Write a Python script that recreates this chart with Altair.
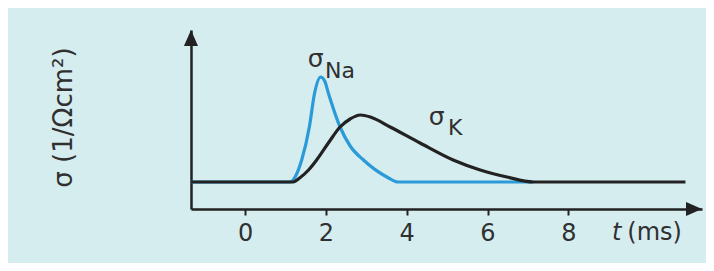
import altair as alt
import pandas as pd

# ---- data (t in ms, conductance in arbitrary units) ----
na_t = [-1.34, 1.11, 1.25, 1.40, 1.59, 1.72, 1.87, 1.97, 2.06, 2.35, 2.60, 2.93, 3.51, 3.79, 7.13]
na_v = [27, 27, 33, 49, 82, 116, 132, 128, 116, 82, 63, 49, 32, 27, 27]

k_t = [-1.34, 1.19, 1.35, 1.57, 1.77, 2.06, 2.35, 2.60, 2.85, 3.10, 3.59, 4.33, 5.15, 5.82, 6.48, 7.13, 10.90]
k_v = [27, 27, 31, 39, 49, 66, 82, 90, 94, 92, 82, 66, 49, 39, 32, 27, 27]

tick_values = [0, 2, 4, 6, 8]

sigma_text = ["σ", "σ"]
sigma_t = [1.745, 4.74]
sigma_v = [142, 84]

sub_text = ["Na", "K"]
sub_t = [1.98, 5.02]
sub_v = [131, 74]

unit_t_text = ["t"]
unit_ms_text = ["(ms)"]
unit_t_pos = [9.08]
unit_ms_pos = [9.46]
unit_v = [-31]

y_title = "σ (1/Ωcm²)"

T_MIN, T_MAX = -1.34, 11.31
V_MIN, V_MAX = 0, 179

# ---- styling ----
FONT = "DejaVu Sans"
INK = "#222222"
TEXT = "#303030"
BLUE = "#2a9ad8"
BG = "#d6edf0"

xs = alt.Scale(domain=[T_MIN, T_MAX], nice=False, zero=False)
ys = alt.Scale(domain=[V_MIN, V_MAX], nice=False, zero=False)

x_axis = alt.Axis(
    values=tick_values, title=None, grid=False, format="d",
    domain=True, domainColor=INK, domainWidth=2.5,
    ticks=True, tickColor=INK, tickSize=6, tickWidth=2,
    labelFont=FONT, labelFontSize=24, labelColor=TEXT, labelPadding=6,
)
y_axis = alt.Axis(
    title=y_title, labels=False, ticks=False, grid=False,
    domain=True, domainColor=INK, domainWidth=2.5,
    titleFont=FONT, titleFontSize=26, titleFontWeight="normal", titleColor=TEXT,
    titleAngle=270, titleX=-128, titleY=87, titleAlign="center", titleBaseline="middle",
)

X = alt.X("t:Q", scale=xs, axis=x_axis)
Y = alt.Y("v:Q", scale=ys, axis=y_axis)

df_na = pd.DataFrame({"t": na_t, "v": na_v})
df_k = pd.DataFrame({"t": k_t, "v": k_v})

na_line = alt.Chart(df_na).mark_line(color=BLUE, strokeWidth=3.2, interpolate="monotone").encode(x=X, y=Y)
k_line = alt.Chart(df_k).mark_line(color=INK, strokeWidth=3.2, interpolate="monotone").encode(x=X, y=Y)

x_arrow = alt.Chart(pd.DataFrame({"t": [T_MAX], "v": [V_MIN]})).mark_point(
    shape="M 0 0 L -1 -0.44 L -1 0.44 Z", size=1024, filled=True, color=INK,
    opacity=1, strokeWidth=0,
).encode(x=X, y=Y)

y_arrow = alt.Chart(pd.DataFrame({"t": [T_MIN], "v": [V_MAX]})).mark_point(
    shape="M 0 0 L -0.44 1 L 0.44 1 Z", size=1024, filled=True, color=INK,
    opacity=1, strokeWidth=0,
).encode(x=X, y=Y)

sigma_lbl = alt.Chart(pd.DataFrame({"t": sigma_t, "v": sigma_v, "s": sigma_text})).mark_text(
    font=FONT, fontSize=25, color=TEXT, align="center", baseline="alphabetic",
).encode(x=X, y=Y, text="s:N")

sub_lbl = alt.Chart(pd.DataFrame({"t": sub_t, "v": sub_v, "s": sub_text})).mark_text(
    font=FONT, fontSize=22, color=TEXT, align="left", baseline="alphabetic",
).encode(x=X, y=Y, text="s:N")

t_lbl = alt.Chart(pd.DataFrame({"t": unit_t_pos, "v": unit_v, "s": unit_t_text})).mark_text(
    font=FONT, fontSize=24, fontStyle="italic", color=TEXT, align="left", baseline="alphabetic",
).encode(x=X, y=Y, text="s:N")

ms_lbl = alt.Chart(pd.DataFrame({"t": unit_ms_pos, "v": unit_v, "s": unit_ms_text})).mark_text(
    font=FONT, fontSize=24, color=TEXT, align="left", baseline="alphabetic",
).encode(x=X, y=Y, text="s:N")

chart = alt.layer(
    na_line, k_line, x_arrow, y_arrow, sigma_lbl, sub_lbl, t_lbl, ms_lbl
).properties(
    width=511, height=179,
    autosize="none",
    padding={"left": 183, "top": 22, "right": 4, "bottom": 54},
    background=BG,
).configure_view(stroke=None)

chart.save("out.html", embed_options={"renderer": "svg", "actions": False})
